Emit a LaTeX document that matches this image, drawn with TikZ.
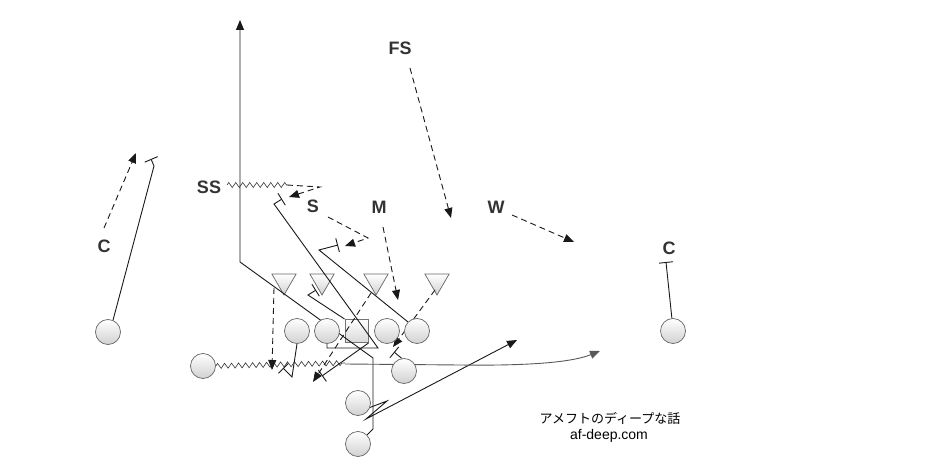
\documentclass[tikz,border=0pt]{standalone}
\usepackage{fontspec}
\setmainfont{Liberation Sans}
\newfontfamily\jpfont{Noto Sans CJK JP}
\usetikzlibrary{arrows.meta,decorations.pathmorphing,shapes.geometric}
\pgfdeclarelayer{bg}
\pgfdeclarelayer{fg}
\pgfsetlayers{bg,main,fg}
\begin{document}
\begin{tikzpicture}[x=1pt,y=-1pt,
  player/.style={circle, draw=black!60, line width=0.7pt, top color=white, bottom color=black!18, minimum size=25pt, inner sep=0pt},
  ctrbox/.style={rectangle, draw=black!55, line width=1pt, top color=white, bottom color=black!15, minimum size=23pt, inner sep=0pt},
  defender/.style={regular polygon, regular polygon sides=3, shape border rotate=180, draw=black!60, line width=0.7pt, top color=white, bottom color=black!18, minimum size=28pt, inner sep=0pt},
  lab/.style={font=\bfseries\fontsize{18}{20}\selectfont, text=black!80, inner sep=0pt},
  route/.style={line width=0.9pt, black!90},
  tip/.style={-{Triangle[length=10pt,width=8pt]}},
  dsh/.style={route, dash pattern=on 6pt off 4pt, tip},
  blk/.style={-{Bar[width=14pt]}},
  zig/.style={line width=0.6pt, black!80, decorate, decoration={zigzag, segment length=7pt, amplitude=2.5pt}}
]
\useasboundingbox (0,0) rectangle (943,473);

\begin{pgfonlayer}{bg}
\node[defender] (d1) at (284,281) {};
\node[defender] (d2) at (322,281) {};
\node[defender] (d3) at (376,281) {};
\node[defender] (d4) at (437,281) {};
\node[ctrbox] (ce) at (356.5,331) {};
\end{pgfonlayer}

\begin{pgfonlayer}{fg}
\node[player] (wl) at (108,332) {};
\node[player] (lt) at (297,331) {};
\node[player] (lg) at (327,331) {};
\node[player] (rg) at (387,331) {};
\node[player] (rt) at (417,331) {};
\node[player] (te) at (404,371) {};
\node[player] (hb) at (358,403) {};
\node[player] (fb) at (358,444) {};
\node[player] (sl) at (203,366) {};
\node[player] (wr) at (673,331) {};
\end{pgfonlayer}

% labels
\node[lab] (fs) at (400,48.5) {FS};
\node[lab] (ss) at (209,187) {SS};
\node[lab] (s) at (313,206) {S};
\node[lab] (m) at (379,207) {M};
\node[lab] (w) at (496,207) {W};
\node[lab] (cl) at (104,246) {C};
\node[lab] (cr) at (669,248) {C};

% fullback route
\draw[route,tip] (fb.45) -- (373,429) -- (373,358) -- (240,262) -- (240,20);
% halfback route
\draw[route,tip] (hb.-20) -- (387,401) -- (366,419) -- (517,340);
% slot motion and route
\draw[zig] (sl.east) -- (345,363);
\draw[line width=0.9pt, black!65, tip] (345,364) -- (460,365) .. controls (540,366) and (575,361) .. (600,351);

% line blocks
\draw[route,blk] (lg.south) -- (327,348) -- (378,348) -- (274,204) -- (282,199);
\draw[route,blk] (rt.135) -- (319,250) -- (338,245);
\draw[route,blk] (ce.north west) -- (308,295) -- (316,290);
\draw[route,blk] (ce.south east) -- (322,376);
\draw[route,blk] (lt.south) -- (292,377) -- (283,368);
\draw[route,blk] (te.100) -- (394,352);
\draw[route,blk] (wl.67) -- (154,166) -- (151,159);
\draw[route,blk] (wr.95) -- (666,262);

% defense
\draw[dsh] (410,68) -- (451,218);
\draw[zig] (227,185) -- (287,185);
\draw[dsh] (287,185) -- (320,187) -- (289,197);
\draw[dsh] (328,217) -- (368,238) -- (345,246);
\draw[dsh] (383,227) -- (398,300);
\draw[dsh] (512,215) -- (574,242);
\draw[dsh] (104,228) -- (136,153);
\draw[dsh] (274,288) -- (272,370);
\draw[dsh] (371,293) -- (313,382);
\draw[dsh] (435,290) -- (393,347);

% credit
\node[font=\jpfont\fontsize{13}{15}\selectfont, inner sep=0pt] (jp) at (610,418) {アメフトのディープな話};
\node[font=\fontsize{14}{16}\selectfont, inner sep=0pt] (url) at (609,436) {af-deep.com};
\end{tikzpicture}
\end{document}
